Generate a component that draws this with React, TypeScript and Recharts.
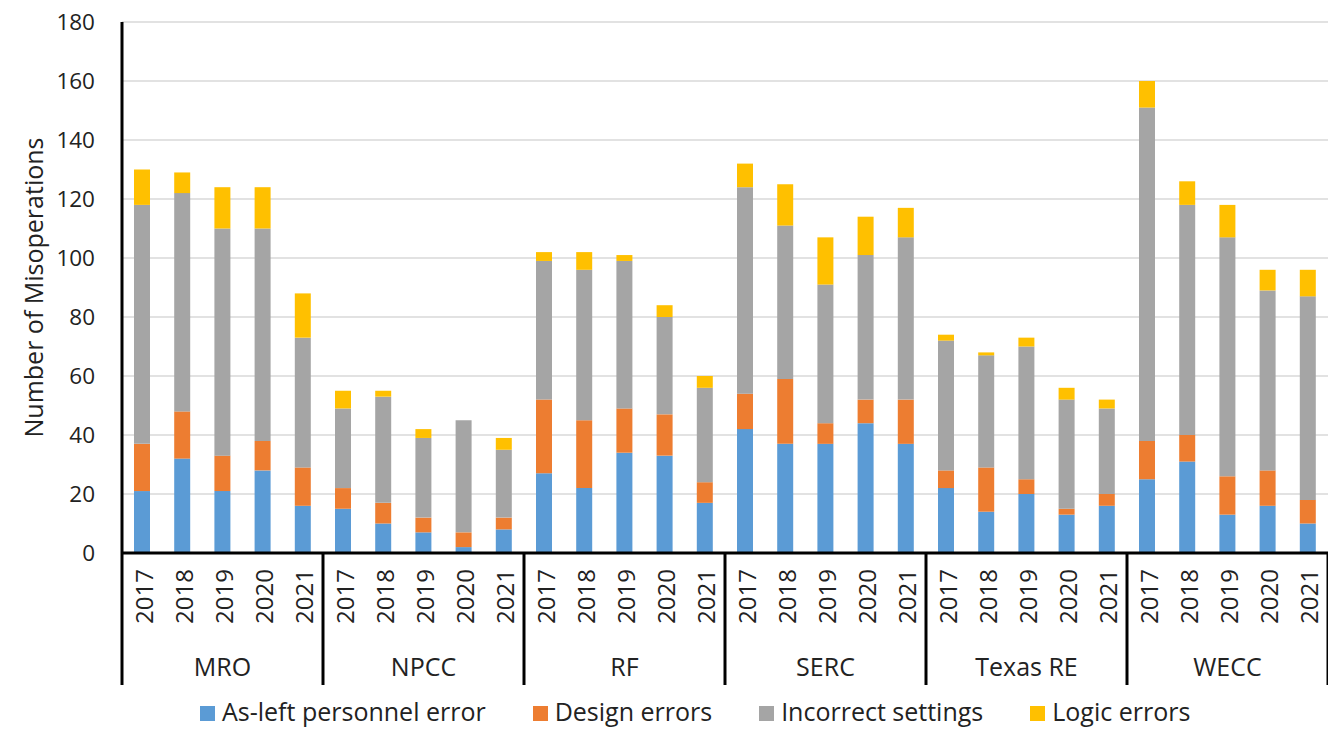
import { Bar, BarChart, CartesianGrid, Legend, XAxis, YAxis } from 'recharts'

const regions = ['MRO', 'NPCC', 'RF', 'SERC', 'Texas RE', 'WECC']
const years = ['2017', '2018', '2019', '2020', '2021']

// one value per region/year, in region order, five years each
const asLeft = [21, 32, 21, 28, 16, 15, 10, 7, 2, 8, 27, 22, 34, 33, 17, 42, 37, 37, 44, 37, 22, 14, 20, 13, 16, 25, 31, 13, 16, 10]
const design = [16, 16, 12, 10, 13, 7, 7, 5, 5, 4, 25, 23, 15, 14, 7, 12, 22, 7, 8, 15, 6, 15, 5, 2, 4, 13, 9, 13, 12, 8]
const incorrect = [81, 74, 77, 72, 44, 27, 36, 27, 38, 23, 47, 51, 50, 33, 32, 70, 52, 47, 49, 55, 44, 38, 45, 37, 29, 113, 78, 81, 61, 69]
const logic = [12, 7, 14, 14, 15, 6, 2, 3, 0, 4, 3, 6, 2, 4, 4, 8, 14, 16, 13, 10, 2, 1, 3, 4, 3, 9, 8, 11, 7, 9]

const yTicks = [0, 20, 40, 60, 80, 100, 120, 140, 160, 180]

const series = [
    { key: 'asLeft', name: 'As-left personnel error', color: '#5B9BD5' },
    { key: 'design', name: 'Design errors', color: '#ED7D31' },
    { key: 'incorrect', name: 'Incorrect settings', color: '#A5A5A5' },
    { key: 'logic', name: 'Logic errors', color: '#FFC000' },
]

const data = regions.flatMap((region, r) =>
    years.map((year, y) => {
        const i = r * years.length + y
        return {
            key: `${region}-${year}`,
            region,
            year,
            asLeft: asLeft[i],
            design: design[i],
            incorrect: incorrect[i],
            logic: logic[i],
        }
    })
)

const W = 1328
const H = 729
const LEFT = 122
const FONT = '"Open Sans", sans-serif'
const TEXT = '#222'
const band = (W - LEFT) / data.length

function CategoryTick(props: any) {
    const { x, y, payload } = props
    const i = payload.index
    const row = data[i]
    const inGroup = i % years.length
    return (
        <g>
            <text
                x={x + 1}
                y={y + 16}
                transform={`rotate(-90, ${x + 1}, ${y + 16})`}
                textAnchor="end"
                dominantBaseline="central"
                fontFamily={FONT}
                fontSize={24}
                fill={TEXT}
            >
                {row.year}
            </text>
            {inGroup === 0 && (
                <line x1={x - band / 2} x2={x - band / 2} y1={y} y2={y + 132} stroke="#000" strokeWidth={3} />
            )}
            {i === data.length - 1 && (
                <line x1={x + band / 2} x2={x + band / 2} y1={y} y2={y + 132} stroke="#000" strokeWidth={3} />
            )}
            {inGroup === 2 && (
                <text
                    x={x}
                    y={y + 113}
                    textAnchor="middle"
                    dominantBaseline="central"
                    fontFamily={FONT}
                    fontSize={25}
                    fill={TEXT}
                >
                    {row.region}
                </text>
            )}
        </g>
    )
}

function YLabel(props: any) {
    const vb = props.viewBox
    const cy = vb.y + vb.height / 2
    return (
        <text
            x={33}
            y={cy}
            transform={`rotate(-90, 33, ${cy})`}
            textAnchor="middle"
            dominantBaseline="central"
            fontFamily={FONT}
            fontSize={25}
            fill={TEXT}
        >
            Number of Misoperations
        </text>
    )
}

function LegendContent() {
    return (
        <div style={{ height: 44, display: 'flex', alignItems: 'flex-start', paddingTop: 15, paddingLeft: 200, boxSizing: 'border-box' }}>
            {series.map((s) => (
                <div key={s.key} style={{ display: 'flex', alignItems: 'center', marginRight: 47, lineHeight: '22px', flexShrink: 0 }}>
                    <span style={{ width: 15, height: 15, background: s.color, marginRight: 7, marginTop: 4, display: 'inline-block' }} />
                    <span style={{ fontFamily: FONT, fontSize: 25, color: TEXT, whiteSpace: 'nowrap' }}>{s.name}</span>
                </div>
            ))}
        </div>
    )
}

export default function App() {
    return (
        <div style={{ position: 'absolute', left: 0, top: 0, width: W, height: H, background: '#fff', overflow: 'hidden' }}>
            <BarChart width={W} height={H} data={data} margin={{ top: 22, right: 0, bottom: 0, left: 0 }} barSize={16}>
                <CartesianGrid vertical={false} stroke="#d9d9d9" strokeWidth={1.5} />
                <XAxis
                    dataKey="key"
                    interval={0}
                    height={132}
                    tickSize={0}
                    tickMargin={0}
                    tickLine={false}
                    axisLine={{ stroke: '#000', strokeWidth: 3 }}
                    tick={<CategoryTick />}
                />
                <YAxis
                    width={LEFT}
                    domain={[0, 180]}
                    ticks={yTicks}
                    interval={0}
                    tickLine={false}
                    tickSize={6}
                    tickMargin={21}
                    axisLine={{ stroke: '#000', strokeWidth: 3 }}
                    tick={{ fontFamily: FONT, fontSize: 22.5, fill: TEXT }}
                    label={<YLabel />}
                />
                <Legend verticalAlign="bottom" height={44} content={<LegendContent />} />
                {series.map((s) => (
                    <Bar key={s.key} dataKey={s.key} name={s.name} stackId="a" fill={s.color} isAnimationActive={false} />
                ))}
            </BarChart>
        </div>
    )
}
